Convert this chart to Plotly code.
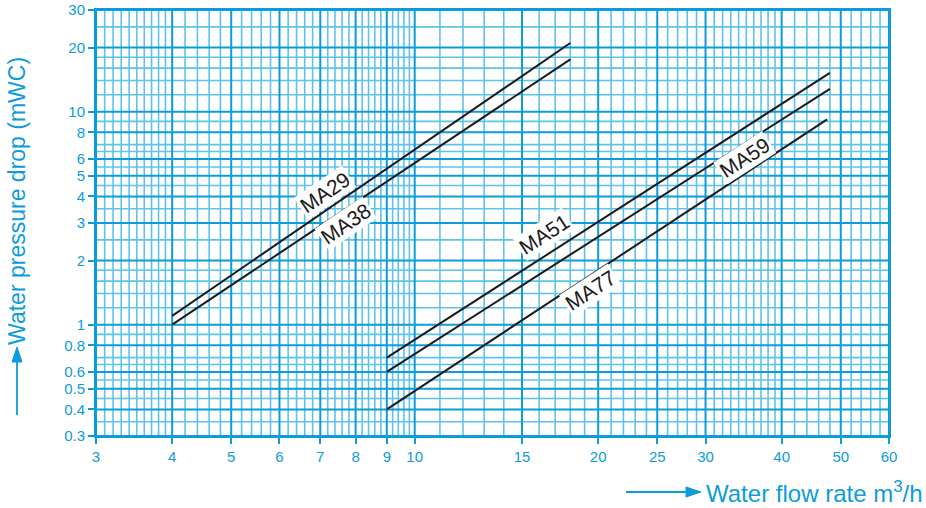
import math
import numpy as np
import plotly.graph_objects as go

# Pressure-drop curves: flow rate (m3/h) vs pressure drop (mWC)
models = ["MA29", "MA38", "MA51", "MA59", "MA77"]
flow_start = [4, 4, 9, 9, 9]
flow_end = [18, 18, 48, 48, 47.5]
drop_start = [1.1, 1.0, 0.7, 0.6, 0.4]
drop_end = [21, 17.6, 15.2, 12.8, 9.2]

# Label placement (flow, drop) and rotation for each curve name
label_flow = [7.13, 7.71, 16.3, 34.8, 19.4]
label_drop = [4.15, 3.0, 2.64, 6.12, 1.45]
label_angle = [-34, -34, -33, -33, -33]

# Axis ticks
x_ticks = [3, 4, 5, 6, 7, 8, 9, 10, 15, 20, 25, 30, 40, 50, 60]
y_ticks = [0.3, 0.4, 0.5, 0.6, 0.8, 1, 2, 3, 4, 5, 6, 8, 10, 20, 30]
X_MIN, X_MAX = 3, 60
Y_MIN, Y_MAX = 0.3, 30

BLUE = "#0c9cdc"
BLUE_LIGHT = "#5ec3ec"
FONT = "Liberation Sans, Arial, sans-serif"


def grid_values(segments, ticks):
    vals = []
    for a, b, step in segments:
        vals.extend(np.round(np.arange(a, b + step / 2, step), 4).tolist())
    return sorted(v for v in set(vals) if all(abs(v - t) > 1e-6 for t in ticks))


x_minor = grid_values([(3, 4, 0.1), (4, 10, 0.2), (10, 40, 1), (40, 60, 2)], x_ticks)
y_minor = grid_values([(0.3, 0.7, 0.05), (0.7, 1, 0.1), (1, 2, 0.2),
                       (2, 7, 0.5), (7, 10, 1), (10, 20, 2), (20, 30, 5)], y_ticks)


def grid_trace(xvals, yvals, color, width):
    xs, ys = [], []
    for v in xvals:
        xs += [v, v, None]
        ys += [Y_MIN, Y_MAX, None]
    for v in yvals:
        xs += [X_MIN, X_MAX, None]
        ys += [v, v, None]
    return go.Scatter(x=xs, y=ys, mode="lines", line=dict(color=color, width=width),
                      hoverinfo="skip", showlegend=False, connectgaps=False)


fig = go.Figure()
fig.add_trace(grid_trace(x_minor, y_minor, BLUE_LIGHT, 1.6))
fig.add_trace(grid_trace(x_ticks, y_ticks, BLUE, 2))

for i, name in enumerate(models):
    fig.add_trace(go.Scatter(
        x=[flow_start[i], flow_end[i]], y=[drop_start[i], drop_end[i]],
        mode="lines", line=dict(color="#1a1a1a", width=2), name=name,
        showlegend=False, hoverinfo="skip"))
    fig.add_annotation(
        x=math.log10(label_flow[i]), y=math.log10(label_drop[i]),
        text=name, showarrow=False, textangle=label_angle[i],
        font=dict(family=FONT, size=21, color="#1a1a1a"),
        bgcolor="white", borderpad=1)

axis_common = dict(
    type="log", showgrid=False, automargin=False,
    showline=True, linecolor=BLUE, linewidth=2, mirror=True,
    ticks="outside", ticklen=6, tickwidth=2, tickcolor=BLUE,
    tickfont=dict(family=FONT, size=15, color=BLUE),
    zeroline=False, tickmode="array",
)

fig.update_xaxes(
    **axis_common, range=[math.log10(X_MIN), math.log10(X_MAX)],
    tickvals=x_ticks, ticktext=[str(v) for v in x_ticks],
)
fig.update_yaxes(
    **axis_common, range=[math.log10(Y_MIN), math.log10(Y_MAX)],
    tickvals=y_ticks, ticktext=[f"{v:g}" for v in y_ticks],
)

# Axis titles
fig.add_annotation(
    xref="paper", yref="paper", x=0.767, y=-0.131, xanchor="left", yanchor="middle",
    text="Water flow rate m<sup>3</sup>/h", showarrow=False,
    font=dict(family=FONT, size=24, color=BLUE))
fig.add_annotation(
    xref="paper", yref="paper", x=-0.099, y=0.553, xanchor="center", yanchor="middle",
    text="Water pressure drop (mWC)", showarrow=False, textangle=-90,
    font=dict(family=FONT, size=23, color=BLUE))


# Direction arrows next to the axis titles (pixel layout -> paper coords)
def px(x):
    return (x - 96) / 793


def py(y):
    return (436 - y) / 426


arrow_line = dict(color=BLUE, width=1.8)
fig.add_shape(type="line", xref="paper", yref="paper",
              x0=px(626), x1=px(690), y0=py(492), y1=py(492), line=arrow_line)
fig.add_shape(type="path", xref="paper", yref="paper",
              path=f"M {px(701)} {py(492)} L {px(686)} {py(487)} L {px(686)} {py(497)} Z",
              fillcolor=BLUE, line=dict(color=BLUE, width=1))
fig.add_shape(type="line", xref="paper", yref="paper",
              x0=px(17), x1=px(17), y0=py(415), y1=py(360), line=arrow_line)
fig.add_shape(type="path", xref="paper", yref="paper",
              path=f"M {px(17)} {py(347)} L {px(12)} {py(362)} L {px(22)} {py(362)} Z",
              fillcolor=BLUE, line=dict(color=BLUE, width=1))

fig.update_layout(
    width=926, height=508,
    margin=dict(l=96, r=37, t=10, b=72),
    paper_bgcolor="white", plot_bgcolor="white",
    showlegend=False,
)

fig.write_html("out.html")
